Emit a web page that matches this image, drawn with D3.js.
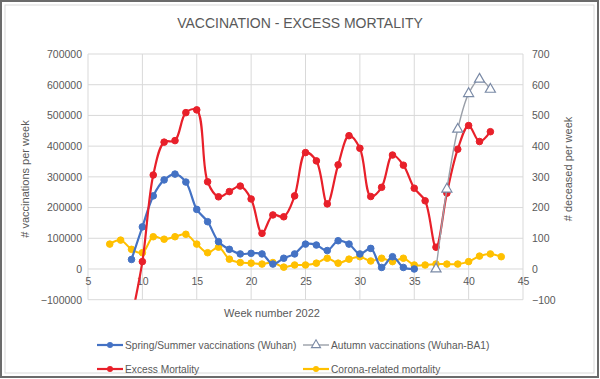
<!DOCTYPE html>
<html><head><meta charset="utf-8">
<script src="https://cdn.jsdelivr.net/npm/d3@7"></script>
<style>body{margin:0;background:#fff}svg{display:block;font-family:"Liberation Sans",Arial,sans-serif}</style>
</head><body><svg id="c" width="600" height="379"></svg>
<script>
const springWeeks = [9,10,11,12,13,14,15,16,17,18,19,20,21,22,23,24,25,26,27,28,29,30,31,32,33,34,35];
const springVacc = [31000,137000,238000,290000,309000,283000,194000,154000,89000,64000,49000,51000,49000,16000,35000,49000,81000,78000,60000,92000,81000,49000,67000,5000,40000,5000,0];
const autumnWeeks = [37,38,39,40,41,42];
const autumnVacc = [0,260000,455000,571000,618000,585000];
const excessWeeks = [9,10,11,12,13,14,15,16,17,18,19,20,21,22,23,24,25,26,27,28,29,30,31,32,33,34,35,36,37,38,39,40,41,42];
const excessMort = [-160,24,306,413,418,509,518,284,235,252,270,228,116,176,170,238,379,352,212,339,434,393,236,266,371,338,263,222,71,247,390,467,415,447];
const coronaWeeks = [7,8,9,10,11,12,13,14,15,16,17,18,19,20,21,22,23,24,25,26,27,28,29,30,31,32,33,34,35,36,37,38,39,40,41,42,43];
const coronaMort = [81,94,64,53,105,97,105,113,81,53,71,32,21,19,16,21,6,13,13,19,35,19,32,40,26,35,24,35,13,13,16,16,16,24,42,49,40];
const leftTicks = [-100000,0,100000,200000,300000,400000,500000,600000,700000];
const rightTicks = [-100,0,100,200,300,400,500,600,700];
const xTicks = [5,10,15,20,25,30,35,40,45];

const svg = d3.select("#c");
const L = 88, R = 523, T = 54, B = 299.7;
const x = d3.scaleLinear().domain([5,45]).range([L,R]);
const yL = d3.scaleLinear().domain([-100000,700000]).range([B,T]);
const yR = d3.scaleLinear().domain([-100,700]).range([B,T]);

// frame
svg.append("rect").attr("x",1).attr("y",1).attr("width",597).attr("height",376).attr("fill","#fff").attr("stroke","#6b6b6b").attr("stroke-width",2);
svg.append("rect").attr("x",5).attr("y",5).attr("width",589).attr("height",368).attr("fill","none").attr("stroke","#d9d9d9").attr("stroke-width",1);

// title
svg.append("text").attr("x",300).attr("y",28).attr("text-anchor","middle").attr("font-size",14).attr("fill","#595959").text("VACCINATION - EXCESS MORTALITY");

// gridlines
const g = svg.append("g");
g.selectAll(".hg").data(leftTicks).join("line").attr("x1",L).attr("x2",R).attr("y1",d=>yL(d)).attr("y2",d=>yL(d)).attr("stroke","#d9d9d9").attr("stroke-width",1);
g.selectAll(".vg").data(xTicks).join("line").attr("x1",d=>x(d)).attr("x2",d=>x(d)).attr("y1",T).attr("y2",B).attr("stroke","#d9d9d9").attr("stroke-width",1);

// axes
const axL = svg.append("g").attr("transform",`translate(${L-6},0)`).call(d3.axisLeft(yL).tickValues(leftTicks).tickSize(0).tickPadding(0).tickFormat(d3.format("d")));
const axR = svg.append("g").attr("transform",`translate(${R+9},0)`).call(d3.axisRight(yR).tickValues(rightTicks).tickSize(0).tickPadding(0).tickFormat(d3.format("d")));
const axX = svg.append("g").attr("transform",`translate(0,${yL(0)+5})`).call(d3.axisBottom(x).tickValues(xTicks).tickSize(0).tickPadding(4));
[axL,axR,axX].forEach(a=>{a.select(".domain").remove();a.selectAll("text").attr("fill","#595959").attr("font-size",10.5).attr("font-family","Liberation Sans, Arial, sans-serif");});

// axis titles
svg.append("text").attr("transform","translate(29,179) rotate(-90)").attr("text-anchor","middle").attr("font-size",11).attr("fill","#595959").text("# vaccinations per week");
svg.append("text").attr("transform","translate(572,169) rotate(-90)").attr("text-anchor","middle").attr("font-size",11).attr("fill","#595959").text("# deceased per week");
svg.append("text").attr("x",272).attr("y",317).attr("text-anchor","middle").attr("font-size",11).attr("fill","#595959").text("Week number 2022");

// clip
svg.append("clipPath").attr("id","clip").append("rect").attr("x",L).attr("y",T-10).attr("width",R-L+10).attr("height",B-T+10);
const plot = svg.append("g").attr("clip-path","url(#clip)");

const curve = d3.curveCatmullRom.alpha(0.5);
function series(weeks, vals, ys, color, width, marker, mstroke){
  const data = weeks.map((w,i)=>[w,vals[i]]);
  plot.append("path").datum(data).attr("fill","none").attr("stroke",color).attr("stroke-width",width)
    .attr("d",d3.line().x(d=>x(d[0])).y(d=>ys(d[1])).curve(curve));
  const pts = data.filter(d=>ys(d[1])<=B+1);
  if(marker==="circle"){
    plot.selectAll(null).data(pts).join("circle").attr("cx",d=>x(d[0])).attr("cy",d=>ys(d[1])).attr("r",3.3).attr("fill",color).attr("stroke",color);
  } else {
    plot.selectAll(null).data(pts).join("path").attr("transform",d=>`translate(${x(d[0])},${ys(d[1])})`)
      .attr("d",d3.symbol(d3.symbolTriangle,44)).attr("fill","#fff").attr("stroke",mstroke).attr("stroke-width",1.2);
  }
}
series(coronaWeeks, coronaMort, yR, "#FFC000", 2, "circle");
series(springWeeks, springVacc, yL, "#4472C4", 2.2, "circle");
series(excessWeeks, excessMort, yR, "#E8202A", 2.2, "circle");
series(autumnWeeks, autumnVacc, yL, "#9a9fa8", 1.4, "tri", "#7a8aa6");

// legend
const leg = [
  {label:"Spring/Summer vaccinations (Wuhan)", color:"#4472C4", m:"circle", x:97, y:345},
  {label:"Autumn vaccinations (Wuhan-BA1)", color:"#9a9fa8", m:"tri", ms:"#7a8aa6", x:303, y:345},
  {label:"Excess Mortality", color:"#E8202A", m:"circle", x:97, y:369},
  {label:"Corona-related mortality", color:"#FFC000", m:"circle", x:303, y:369}
];
const lg = svg.selectAll(".lg").data(leg).join("g").attr("transform",d=>`translate(${d.x},${d.y})`);
lg.append("line").attr("x1",0).attr("x2",26).attr("stroke",d=>d.color).attr("stroke-width",d=>d.m==="tri"?1.4:2.2);
lg.each(function(d){
  const s=d3.select(this);
  if(d.m==="circle") s.append("circle").attr("cx",13).attr("r",3).attr("fill",d.color);
  else s.append("path").attr("transform","translate(13,0)").attr("d",d3.symbol(d3.symbolTriangle,36)).attr("fill","#fff").attr("stroke",d.ms).attr("stroke-width",1.1);
});
lg.append("text").attr("x",28).attr("y",4).attr("font-size",10.2).attr("fill","#595959").text(d=>d.label);
</script></body></html>
